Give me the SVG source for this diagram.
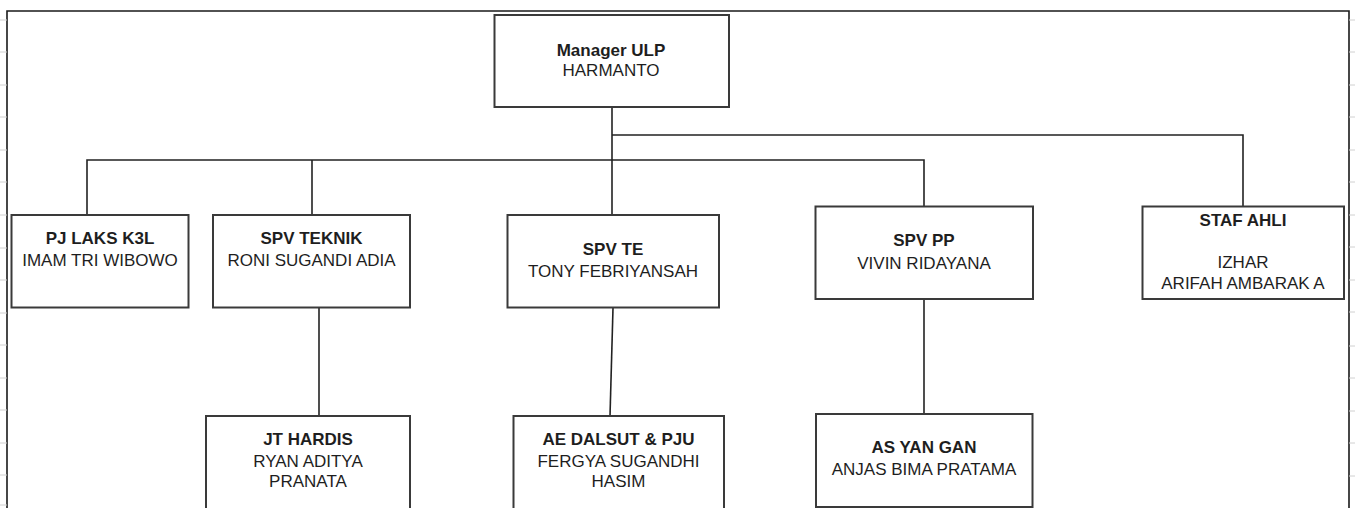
<svg xmlns="http://www.w3.org/2000/svg" width="1355" height="508" viewBox="0 0 1355 508">
<style>
.box{fill:#fff;stroke:#3a3a3a;stroke-width:2}
.frame{fill:none;stroke:#1a1a1a;stroke-width:1.6}
.tick{stroke:#d0d0d0;stroke-width:1}
.conn{fill:none;stroke:#222;stroke-width:1.6}
text{font-family:"Liberation Sans",Arial,sans-serif;font-size:17px;fill:#1e1e1e;text-anchor:middle}
.b{font-weight:bold}
</style>
<rect width="1355" height="508" fill="#fff"/>
<g id="frame">
<path class="frame" d="M7,520 V11 H1349 V520"/>
<g id="ticks">
<path class="tick" d="M0,20H7M0,52H7M0,85H7M0,117H7M0,150H7M0,182H7M0,215H7M0,248H7M0,280H7M0,313H7M0,345H7M0,378H7M0,410H7M0,443H7M0,475H7M0,505H7"/>
<path class="tick" d="M1349,20H1355M1349,52H1355M1349,85H1355M1349,117H1355M1349,150H1355M1349,182H1355M1349,215H1355M1349,247H1355M1349,280H1355M1349,312H1355M1349,346H1355M1349,378H1355M1349,411H1355M1349,443H1355M1349,476H1355"/>
</g>
</g>
<g id="connectors">
<path class="conn" d="M612,107 V216"/>
<path class="conn" d="M612,135 H1243 V207"/>
<path class="conn" d="M87,215 V160 H924 V207"/>
<path class="conn" d="M312,160 V215"/>
<path class="conn" d="M319,308 V416"/>
<path class="conn" d="M613,308 L610,416"/>
<path class="conn" d="M924,299 V414"/>
</g>
<g id="manager">
<rect class="box" x="494.5" y="15" width="234.5" height="92"/>
<text x="611" y="56" class="b">Manager ULP</text>
<text x="611" y="76">HARMANTO</text>
</g>
<g id="pj-laks">
<rect class="box" x="11.5" y="215" width="177" height="92.5"/>
<text x="100" y="243.5" class="b">PJ LAKS K3L</text>
<text x="100" y="266">IMAM TRI WIBOWO</text>
</g>
<g id="spv-teknik">
<rect class="box" x="213" y="215" width="197" height="92.5"/>
<text x="311.5" y="243.5" class="b">SPV TEKNIK</text>
<text x="311.5" y="266">RONI SUGANDI ADIA</text>
</g>
<g id="spv-te">
<rect class="box" x="507.5" y="215" width="211.5" height="92.5"/>
<text x="613" y="255" class="b">SPV TE</text>
<text x="613" y="277">TONY FEBRIYANSAH</text>
</g>
<g id="spv-pp">
<rect class="box" x="815.5" y="206.5" width="217.5" height="92.5"/>
<text x="924" y="246" class="b">SPV PP</text>
<text x="924" y="268.5">VIVIN RIDAYANA</text>
</g>
<g id="staf-ahli">
<rect class="box" x="1142.5" y="206.5" width="201.5" height="92.5"/>
<text x="1243" y="226" class="b">STAF AHLI</text>
<text x="1243" y="268">IZHAR</text>
<text x="1243" y="289">ARIFAH AMBARAK A</text>
</g>
<g id="jt-hardis">
<rect class="box" x="206" y="416" width="204" height="100"/>
<text x="308" y="445" class="b">JT HARDIS</text>
<text x="308" y="467">RYAN ADITYA</text>
<text x="308" y="487">PRANATA</text>
</g>
<g id="ae-dalsut">
<rect class="box" x="513.5" y="416" width="210.5" height="100"/>
<text x="618.5" y="445" class="b">AE DALSUT &amp; PJU</text>
<text x="618.5" y="467">FERGYA SUGANDHI</text>
<text x="618.5" y="487">HASIM</text>
</g>
<g id="as-yan-gan">
<rect class="box" x="816" y="414" width="216.5" height="93"/>
<text x="924" y="452.5" class="b">AS YAN GAN</text>
<text x="924" y="475">ANJAS BIMA PRATAMA</text>
</g>
</svg>
